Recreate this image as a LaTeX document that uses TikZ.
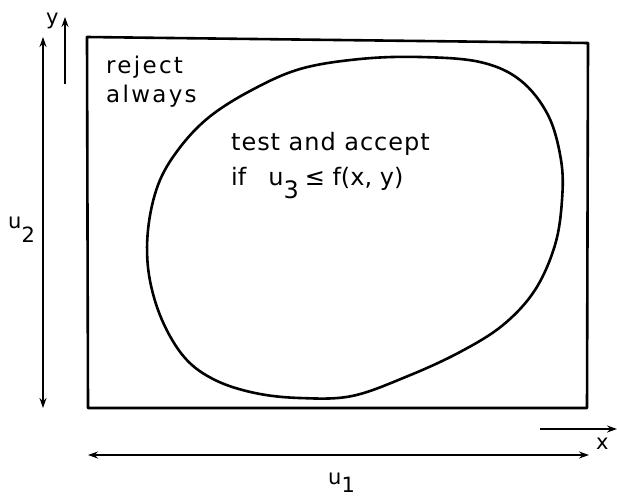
\documentclass[tikz,border=0pt]{standalone}
\usepackage{fontspec}
\setmainfont{DejaVu Sans}
\usetikzlibrary{arrows.meta}
\begin{document}
\begin{tikzpicture}[x=1pt,y=-1pt,
  thick line/.style={line width=2.6pt, line join=round},
  onearrow/.style={line width=2.3pt,-{Stealth[length=10pt,width=7pt]}},
  twoarrow/.style={line width=2.3pt,{Stealth[length=10pt,width=7pt]}-{Stealth[length=10pt,width=7pt]}},
  txt/.style={inner sep=0pt, anchor=base west, font=\fontsize{24}{28}\selectfont},
  axlbl/.style={inner sep=0pt, anchor=base west, font=\fontsize{21}{24}\selectfont}]
\useasboundingbox[fill=white] (0,0) rectangle (617,496);

% frame
\draw[thick line] (87,37) -- (588,43) -- (587,408) -- (88,408) -- cycle;

% region
\draw[thick line] plot[smooth cycle, tension=0.6] coordinates {
  (300,69) (360,59) (420,57) (480,62) (520,80) (548,115) (561,160) (562,200)
  (555,245) (535,290) (503,325) (460,352) (408,376) (352,396) (300,398)
  (255,393) (215,380) (185,358) (162,320) (149,275) (148,230) (158,185)
  (178,150) (208,118) (250,91)};

% u2 arrow
\coordinate (u2top) at (43,37);
\coordinate (u2bot) at (43,408);
\draw[twoarrow] (u2bot) -- (u2top);
\node[axlbl] (u2lab) at (8,228) {u\raisebox{-14pt}{2}};

% y arrow
\coordinate (ybot) at (65,84);
\coordinate (ytop) at (65,17);
\draw[onearrow] (ybot) -- (ytop);
\node[axlbl] (ylab) at (46,24) {y};

% x arrow
\coordinate (xl) at (540,429);
\coordinate (xr) at (617,429);
\draw[onearrow] (xl) -- (xr);
\node[axlbl] (xlab) at (596,449) {x};

% u1 arrow
\coordinate (u1l) at (88,455);
\coordinate (u1r) at (589,455);
\draw[twoarrow] (u1l) -- (u1r);
\node[axlbl] (u1lab) at (328,484) {u\raisebox{-8pt}{1}};

% texts
\node[txt, font=\fontsize{23}{28}\selectfont\addfontfeatures{LetterSpace=10}] (rej) at (106,73) {reject};
\node[txt, font=\fontsize{23}{28}\selectfont\addfontfeatures{LetterSpace=10}] (alw) at (106,102) {always};
\node[txt, font=\fontsize{24}{28}\selectfont\addfontfeatures{LetterSpace=4}] (tst) at (231,150) {test and accept};
\node[txt] (cond) at (231,185) {if\hspace{22pt}u\raisebox{-13pt}{3}\hspace{6pt}≤ f(x, y)};
\end{tikzpicture}
\end{document}
